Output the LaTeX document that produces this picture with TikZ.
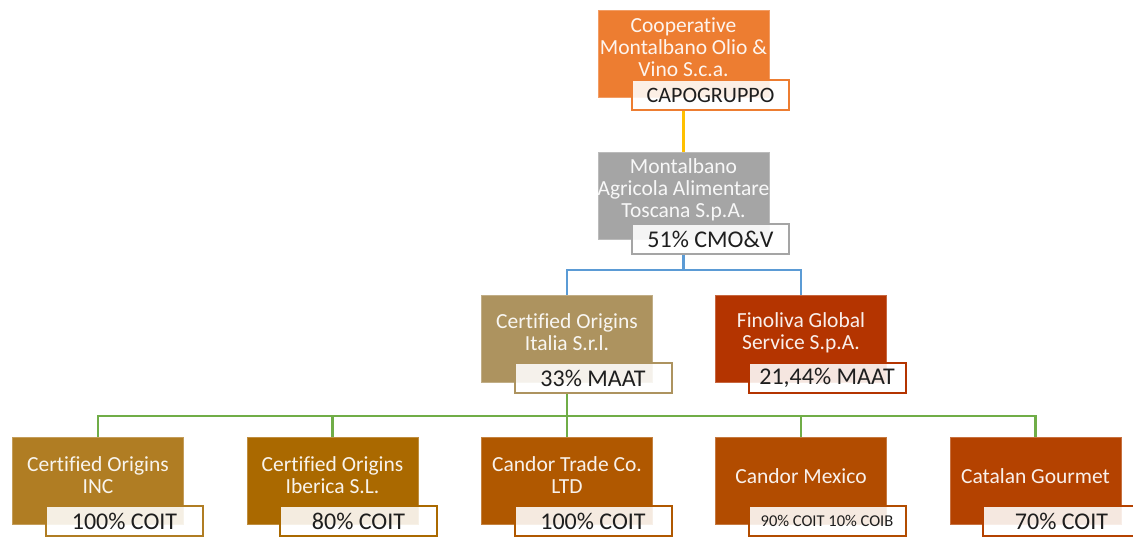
\documentclass[tikz,border=0pt]{standalone}
\usepackage{fontspec}
\setmainfont{Carlito}[Ligatures=NoCommon]
\definecolor{cOrange}{RGB}{237,125,49}
\definecolor{cGray}{RGB}{165,165,165}
\definecolor{cTan}{RGB}{173,147,95}
\definecolor{cFin}{RGB}{180,52,0}
\definecolor{cInc}{RGB}{176,125,35}
\definecolor{cIbe}{RGB}{170,105,0}
\definecolor{cCtr}{RGB}{176,88,0}
\definecolor{cMex}{RGB}{178,76,0}
\definecolor{cCat}{RGB}{180,66,0}
\definecolor{cYel}{RGB}{255,192,0}
\definecolor{cBlue}{RGB}{91,155,213}
\definecolor{cGreen}{RGB}{112,173,71}
\definecolor{cText}{RGB}{30,30,30}
\tikzset{
  orgbox/.style={rectangle, fill=#1, draw=#1!75!white, line width=0.8pt,
    minimum width=171pt, minimum height=87pt, inner sep=0pt},
  boxtxt/.style={text=white, text opacity=0.92, align=center,
    font=\fontsize{21.5}{22}\selectfont, inner sep=0pt},
  pctlab/.style={rectangle, draw=#1, line width=2pt, fill=white, fill opacity=0.88,
    text opacity=1, text=cText, minimum width=157pt, minimum height=30pt,
    inner sep=0pt, font=\fontsize{24}{25}\selectfont},
  conn/.style={line width=2.5pt, draw=#1},
}
\begin{document}
\begin{tikzpicture}[x=1pt,y=-1pt]
\useasboundingbox (0,0) rectangle (1133,537);
% level 0
\node[orgbox=cOrange] (b0) at (683.5,53.5) {};
\node[boxtxt] (t0) at ([yshift=6.5pt]b0.center) {Cooperative\\Montalbano Olio \&\\Vino S.c.a.};
% level 1
\node[orgbox=cGray] (b1) at (683.5,196) {};
\node[boxtxt] (t1) at ([yshift=6.5pt]b1.center) {Montalbano\\Agricola Alimentare\\Toscana S.p.A.};
% level 2
\node[orgbox=cTan] (b21) at (567,339) {};
\node[boxtxt] (t21) at ([yshift=6.5pt]b21.center) {Certified Origins\\Italia S.r.l.};
\node[orgbox=cFin] (b22) at (801,339) {};
\node[boxtxt] (t22) at ([yshift=6.5pt]b22.center) {Finoliva Global\\Service S.p.A.};
% level 3
\node[orgbox=cInc] (b31) at (98,481) {};
\node[boxtxt] (t31) at ([yshift=6pt]b31.center) {Certified Origins\\INC};
\node[orgbox=cIbe] (b32) at (332.5,481) {};
\node[boxtxt] (t32) at ([yshift=6pt]b32.center) {Certified Origins\\Iberica S.L.};
\node[orgbox=cCtr] (b33) at (567,481) {};
\node[boxtxt] (t33) at ([yshift=6pt]b33.center) {Candor Trade Co.\\LTD};
\node[orgbox=cMex] (b34) at (801,481) {};
\node[boxtxt] (t34) at ([yshift=5pt]b34.center) {Candor Mexico};
\node[orgbox=cCat] (b35) at (1035.5,481) {};
\node[boxtxt] (t35) at ([yshift=5pt]b35.center) {Catalan Gourmet};
% percentage labels
\node[pctlab=cOrange, font=\fontsize{22}{24}\selectfont] (l0) at (710.5,95) {CAPOGRUPPO};
\node[pctlab=cGray] (l1) at (710.5,239) {51\% CMO\&V};
\node[pctlab=cTan] (l21) at (593,378) {33\% MAAT};
\node[pctlab=cFin] (l22) at (827,378) {21,44\% MAAT};
\node[pctlab=cInc] (l31) at (124.5,521) {100\% COIT};
\node[pctlab=cIbe] (l32) at (358.5,521) {80\% COIT};
\node[pctlab=cCtr] (l33) at (593,521) {100\% COIT};
\node[pctlab=cMex, font=\fontsize{16.5}{17}\selectfont] (l34) at (827,521) {90\% COIT 10\% COIB};
\node[pctlab=cCat] (l35) at (1061.5,521) {70\% COIT};
% connectors
\draw[conn=cYel] (b0.center |- l0.south) -- (b1.north);
\coordinate (j1) at (683.5,270);
\draw[conn=cBlue] (b1.center |- l1.south) -- (j1);
\draw[conn=cBlue] (j1) -| (b21.north);
\draw[conn=cBlue] (j1) -| (b22.north);
\coordinate (j2) at (567,416);
\draw[conn=cGreen] (b21.center |- l21.south) -- (j2);
\draw[conn=cGreen] (j2) -| (b31.north);
\draw[conn=cGreen] (j2) -| (b32.north);
\draw[conn=cGreen] (j2) -- (b33.north);
\draw[conn=cGreen] (j2) -| (b34.north);
\draw[conn=cGreen] (j2) -| (b35.north);
\end{tikzpicture}
\end{document}
